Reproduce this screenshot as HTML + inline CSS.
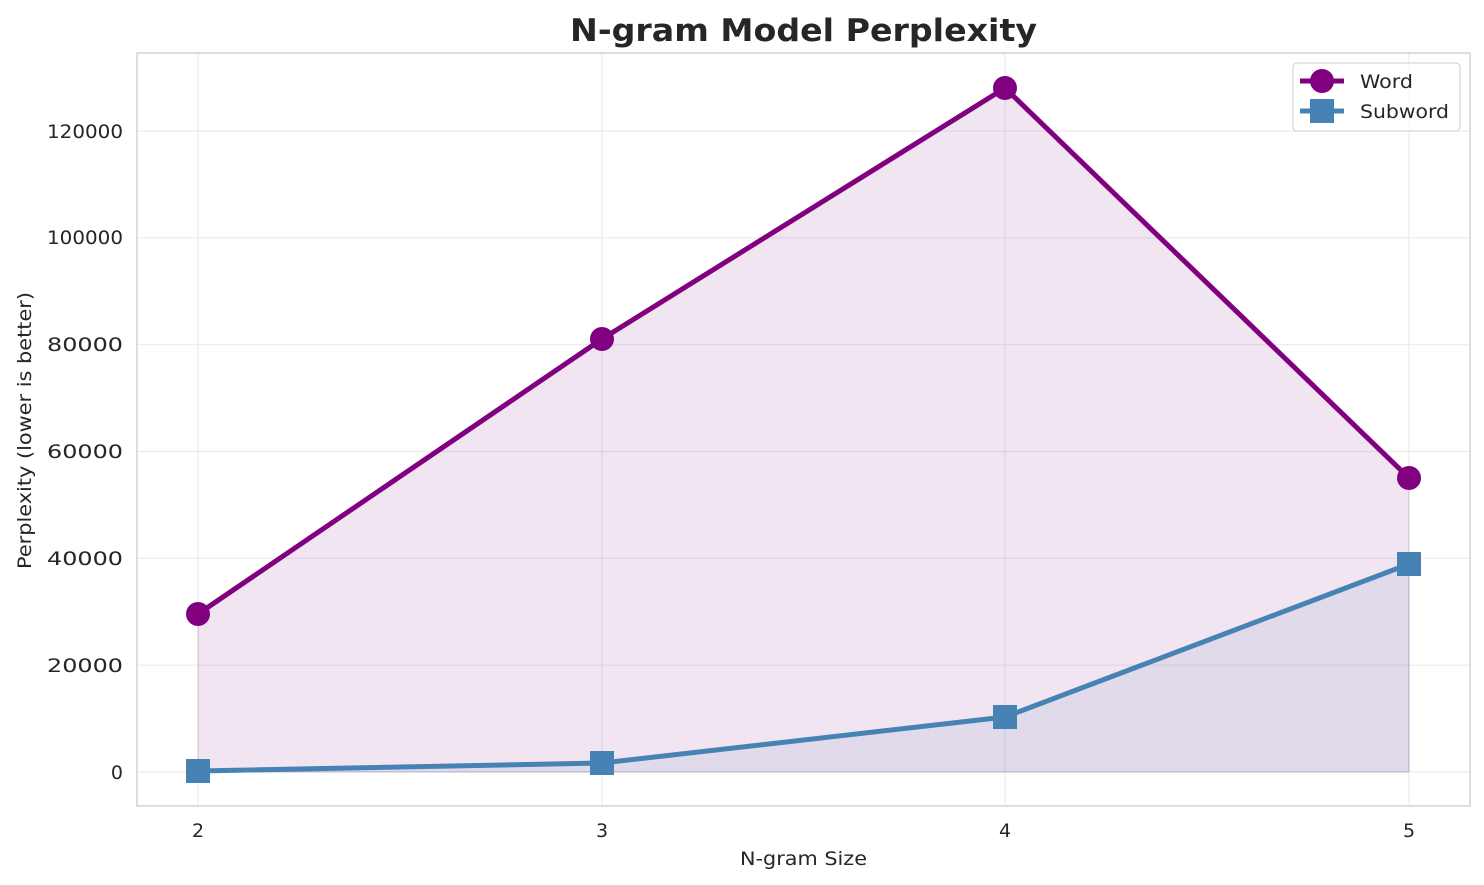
<!DOCTYPE html>
<html><head><meta charset="utf-8"><style>
body{margin:0;background:#fff;}
svg{display:block;font-family:"DejaVu Sans","Liberation Sans",sans-serif;}
</style></head><body>
<svg width="1484" height="885" viewBox="0 0 1484 885" xmlns="http://www.w3.org/2000/svg">
<rect width="1484" height="885" fill="#fff"/>
<g stroke="#ebebeb" stroke-width="1.2">
<line x1="198" y1="53" x2="198" y2="806"/><line x1="602" y1="53" x2="602" y2="806"/>
<line x1="1005" y1="53" x2="1005" y2="806"/><line x1="1409" y1="53" x2="1409" y2="806"/>
<line x1="137" y1="772" x2="1470" y2="772"/><line x1="137" y1="665.2" x2="1470" y2="665.2"/>
<line x1="137" y1="558.3" x2="1470" y2="558.3"/><line x1="137" y1="451.5" x2="1470" y2="451.5"/>
<line x1="137" y1="344.7" x2="1470" y2="344.7"/><line x1="137" y1="237.8" x2="1470" y2="237.8"/>
<line x1="137" y1="131" x2="1470" y2="131"/>
</g>
<polygon points="198,614 602,339 1005,88 1409,478 1409,772 198,772" fill="#800080" fill-opacity="0.1" stroke="#800080" stroke-opacity="0.15"/>
<polygon points="198,771 602,763 1005,717 1409,564 1409,772 198,772" fill="#4682b4" fill-opacity="0.1" stroke="#4682b4" stroke-opacity="0.15"/>
<polyline points="198,614 602,339 1005,88 1409,478" fill="none" stroke="#800080" stroke-width="5" stroke-linejoin="round"/>
<g fill="#800080"><circle cx="198" cy="614" r="12"/><circle cx="602" cy="339" r="12"/><circle cx="1005" cy="88" r="12"/><circle cx="1409" cy="478" r="12"/></g>
<polyline points="198,771 602,763 1005,717 1409,564" fill="none" stroke="#4682b4" stroke-width="5" stroke-linejoin="round"/>
<g fill="#4682b4"><rect x="186" y="759" width="24" height="24"/><rect x="590" y="751" width="24" height="24"/><rect x="993" y="705" width="24" height="24"/><rect x="1397" y="552" width="24" height="24"/></g>
<rect x="137" y="53" width="1333" height="753" fill="none" stroke="#ccc" stroke-width="1.3"/>
<g font-size="19" fill="#262626" text-anchor="middle">
<text x="198" y="837">2</text><text x="602" y="837">3</text><text x="1005" y="837">4</text><text x="1409" y="837">5</text>
</g>
<g font-size="19" fill="#262626" text-anchor="end">
<text x="123" y="779">0</text>
<text x="123" y="672" textLength="76" lengthAdjust="spacingAndGlyphs">20000</text>
<text x="123" y="565" textLength="76" lengthAdjust="spacingAndGlyphs">40000</text>
<text x="123" y="458" textLength="76" lengthAdjust="spacingAndGlyphs">60000</text>
<text x="123" y="351" textLength="76" lengthAdjust="spacingAndGlyphs">80000</text>
<text x="123" y="244" textLength="76" lengthAdjust="spacingAndGlyphs">100000</text>
<text x="123" y="138" textLength="76" lengthAdjust="spacingAndGlyphs">120000</text>
</g>
<text x="740" y="865" font-size="19" fill="#262626" textLength="127" lengthAdjust="spacingAndGlyphs">N-gram Size</text>
<text transform="translate(31,569) rotate(-90)" font-size="19" fill="#262626" textLength="277" lengthAdjust="spacingAndGlyphs">Perplexity (lower is better)</text>
<text x="570" y="41" font-size="31" font-weight="bold" fill="#262626" textLength="467" lengthAdjust="spacingAndGlyphs">N-gram Model Perplexity</text>
<rect x="1293" y="63" width="167" height="68" rx="4" fill="#fff" fill-opacity="0.8" stroke="#ccc"/>
<line x1="1300" y1="81" x2="1344" y2="81" stroke="#800080" stroke-width="5"/>
<circle cx="1322" cy="81" r="12" fill="#800080"/>
<line x1="1300" y1="111" x2="1344" y2="111" stroke="#4682b4" stroke-width="5"/>
<rect x="1310" y="99" width="24" height="24" fill="#4682b4"/>
<text x="1360" y="88" font-size="19" fill="#262626" textLength="53" lengthAdjust="spacingAndGlyphs">Word</text>
<text x="1360" y="118" font-size="19" fill="#262626" textLength="89" lengthAdjust="spacingAndGlyphs">Subword</text>
</svg>
</body></html>
